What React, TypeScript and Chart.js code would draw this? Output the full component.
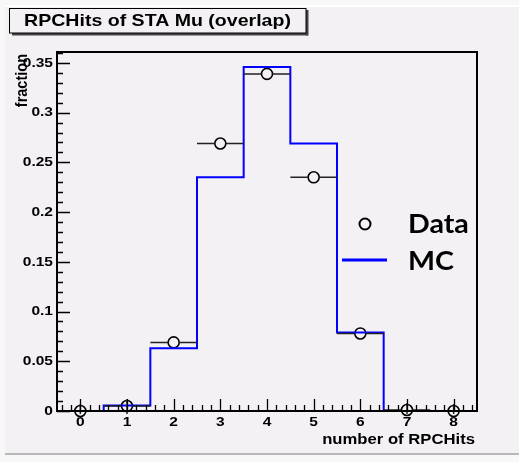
import React, { useEffect, useRef } from "react";
import { Chart, registerables } from "chart.js";

Chart.register(...registerables);

// ---- data ----
const bins = [0, 1, 2, 3, 4, 5, 6, 7, 8];
const dataValues = [0, 0.005, 0.069, 0.269, 0.339, 0.235, 0.078, 0.001, 0];
const dataErrors = [0.007, 0.007, 0.003, 0.003, 0.003, 0.003, 0.003, 0.007, 0.007];
const mcValues = [0, 0.0055, 0.063, 0.235, 0.346, 0.269, 0.079, 0, 0];
const xTicks = [0, 1, 2, 3, 4, 5, 6, 7, 8];
const xTickLabels = ["0", "1", "2", "3", "4", "5", "6", "7", "8"];
const yTicks = [0, 0.05, 0.1, 0.15, 0.2, 0.25, 0.3, 0.35];
const yTickLabels = ["0", "0.05", "0.1", "0.15", "0.2", "0.25", "0.3", "0.35"];
const titleText = "RPCHits of STA Mu (overlap)";
const xTitle = "number of RPCHits";
const yTitle = "fraction";
const legendLabels = ["Data", "MC"];

const X_MIN = -0.5;
const X_MAX = 8.5;
const Y_MIN = 0;
const Y_MAX = 0.361;

const BG = "#f4f1f5";
const SX = 1.15;
const FONT = "'Liberation Sans', Arial, sans-serif";

function sText(ctx: CanvasRenderingContext2D, text: string, x: number, y: number, align: CanvasTextAlign, font: string, sx = SX) {
  ctx.save();
  ctx.font = font;
  ctx.translate(x, y);
  ctx.scale(sx, 1);
  ctx.textAlign = align;
  ctx.textBaseline = "middle";
  ctx.fillStyle = "#000";
  ctx.fillText(text, 0, 0);
  ctx.restore();
}

const rootPlugin = {
  id: "rootStyle",
  beforeDraw(chart: any) {
    const ctx: CanvasRenderingContext2D = chart.ctx;
    const W = chart.width;
    const H = chart.height;
    ctx.save();
    ctx.fillStyle = "#f9f8f9";
    ctx.fillRect(0, 0, W, H);
    ctx.fillStyle = BG;
    ctx.fillRect(5, 6, W - 5, 448);
    ctx.strokeStyle = "#ffffff";
    ctx.lineWidth = 2;
    ctx.beginPath();
    ctx.moveTo(5, 6);
    ctx.lineTo(W, 6);
    ctx.stroke();
    ctx.strokeStyle = "#b9b7b9";
    ctx.beginPath();
    ctx.moveTo(5, 454);
    ctx.lineTo(W, 454);
    ctx.stroke();
    ctx.restore();
  },
  afterDatasetsDraw(chart: any) {
    const ctx: CanvasRenderingContext2D = chart.ctx;
    const xs = chart.scales.x;
    const ys = chart.scales.y;
    const r = 5.5;
    ctx.save();
    ctx.strokeStyle = "#222";
    ctx.lineWidth = 1.5;
    bins.forEach((b, i) => {
      const cx = xs.getPixelForValue(b);
      const cy = ys.getPixelForValue(dataValues[i]);
      const xl = xs.getPixelForValue(b - 0.5);
      const xr = xs.getPixelForValue(b + 0.5);
      ctx.beginPath();
      ctx.moveTo(xl, cy);
      ctx.lineTo(cx - r, cy);
      ctx.moveTo(cx + r, cy);
      ctx.lineTo(xr, cy);
      ctx.stroke();
      const yt = ys.getPixelForValue(dataValues[i] + dataErrors[i]);
      const yb = ys.getPixelForValue(Math.max(0, dataValues[i] - dataErrors[i]) - (dataValues[i] < dataErrors[i] ? 0.003 : 0));
      if (cy - yt > r) {
        ctx.beginPath();
        ctx.moveTo(cx, yt);
        ctx.lineTo(cx, yb);
        ctx.stroke();
      }
    });
    ctx.restore();
  },
  afterDraw(chart: any) {
    const ctx: CanvasRenderingContext2D = chart.ctx;
    const a = chart.chartArea;
    const xs = chart.scales.x;
    const ys = chart.scales.y;
    ctx.save();

    // frame
    ctx.strokeStyle = "#000";
    ctx.lineWidth = 2;
    ctx.strokeRect(a.left, a.top, a.right - a.left, a.bottom - a.top);

    // y ticks (inside)
    ctx.lineWidth = 1.3;
    ctx.beginPath();
    for (let k = 0; k <= 36; k++) {
      const v = k * 0.01;
      if (v > Y_MAX) break;
      const y = Math.round(ys.getPixelForValue(v)) + 0.5;
      const len = k % 5 === 0 ? 13 : 6;
      ctx.moveTo(a.left, y);
      ctx.lineTo(a.left + len, y);
    }
    // x ticks (inside)
    for (let k = -2; k <= 42; k++) {
      const v = k * 0.2;
      if (v < X_MIN || v > X_MAX) continue;
      const x = Math.round(xs.getPixelForValue(v)) + 0.5;
      const len = k % 5 === 0 ? 12 : 6;
      ctx.moveTo(x, a.bottom);
      ctx.lineTo(x, a.bottom - len);
    }
    ctx.stroke();

    // tick labels
    const tickFont = `bold 13.5px ${FONT}`;
    yTicks.forEach((v, i) => {
      sText(ctx, yTickLabels[i], a.left - 4, ys.getPixelForValue(v), "right", tickFont);
    });
    xTicks.forEach((v, i) => {
      sText(ctx, xTickLabels[i], xs.getPixelForValue(v), a.bottom + 11, "center", tickFont);
    });

    // axis titles
    const axFont = `bold 14.5px ${FONT}`;
    sText(ctx, xTitle, a.right - 2, 440, "right", axFont);
    ctx.save();
    ctx.translate(22, a.top + 2);
    ctx.rotate(-Math.PI / 2);
    ctx.scale(1, SX);
    ctx.font = axFont;
    ctx.textAlign = "right";
    ctx.textBaseline = "middle";
    ctx.fillStyle = "#000";
    ctx.fillText(yTitle, 0, 0);
    ctx.restore();

    // title box
    ctx.fillStyle = "#444";
    ctx.fillRect(12, 33, 296, 2.5);
    ctx.fillRect(306, 10, 2.5, 25.5);
    ctx.fillStyle = BG;
    ctx.fillRect(9.5, 8.5, 296.5, 24.5);
    ctx.strokeStyle = "#000";
    ctx.lineWidth = 1;
    ctx.strokeRect(9.5, 8.5, 296.5, 24.5);
    sText(ctx, titleText, 157.5, 21, "center", `bold 17px ${FONT}`);

    // legend
    ctx.strokeStyle = "#000";
    ctx.lineWidth = 2;
    ctx.beginPath();
    ctx.arc(365, 224, 5.5, 0, Math.PI * 2);
    ctx.stroke();
    ctx.strokeStyle = "#0000ff";
    ctx.lineWidth = 3;
    ctx.beginPath();
    ctx.moveTo(342, 260);
    ctx.lineTo(387, 260);
    ctx.stroke();
    const lf = `bold 26px Lato, 'Open Sans', sans-serif`;
    sText(ctx, legendLabels[0], 408, 225, "left", lf, 1.1);
    sText(ctx, legendLabels[1], 408, 262, "left", lf, 1.1);

    ctx.restore();
  },
};

export default function App() {
  const ref = useRef<HTMLCanvasElement | null>(null);
  useEffect(() => {
    if (!ref.current) return;
    const mcPoints = bins.map((b, i) => ({ x: b - 0.5, y: mcValues[i] }));
    mcPoints.push({ x: bins[bins.length - 1] + 0.5, y: mcValues[mcValues.length - 1] });
    const chart = new Chart(ref.current, {
      type: "scatter",
      data: {
        datasets: [
          {
            type: "line",
            label: legendLabels[1],
            data: mcPoints,
            stepped: "before",
            borderColor: "#0000ff",
            borderWidth: 2,
            pointRadius: 0,
            fill: false,
          } as any,
          {
            type: "scatter",
            label: legendLabels[0],
            data: bins.map((b, i) => ({ x: b, y: dataValues[i] })),
            pointStyle: "circle",
            pointRadius: 5.5,
            borderColor: "#000",
            backgroundColor: "rgba(0,0,0,0)",
            borderWidth: 1.6,
            clip: false,
          } as any,
        ],
      },
      options: {
        responsive: false,
        animation: false,
        devicePixelRatio: 1,
        layout: { padding: { left: 57, top: 52, right: 42, bottom: 51 } },
        scales: {
          x: { type: "linear", min: X_MIN, max: X_MAX, display: false },
          y: { type: "linear", min: Y_MIN, max: Y_MAX, display: false },
        },
        plugins: { legend: { display: false }, tooltip: { enabled: false }, title: { display: false } },
        events: [],
      } as any,
      plugins: [rootPlugin],
    });
    return () => chart.destroy();
  }, []);
  return (
    <div style={{ position: "absolute", left: 0, top: 0, width: 519, height: 462 }}>
      <canvas ref={ref} width={519} height={462} style={{ width: 519, height: 462, display: "block" }} />
    </div>
  );
}
